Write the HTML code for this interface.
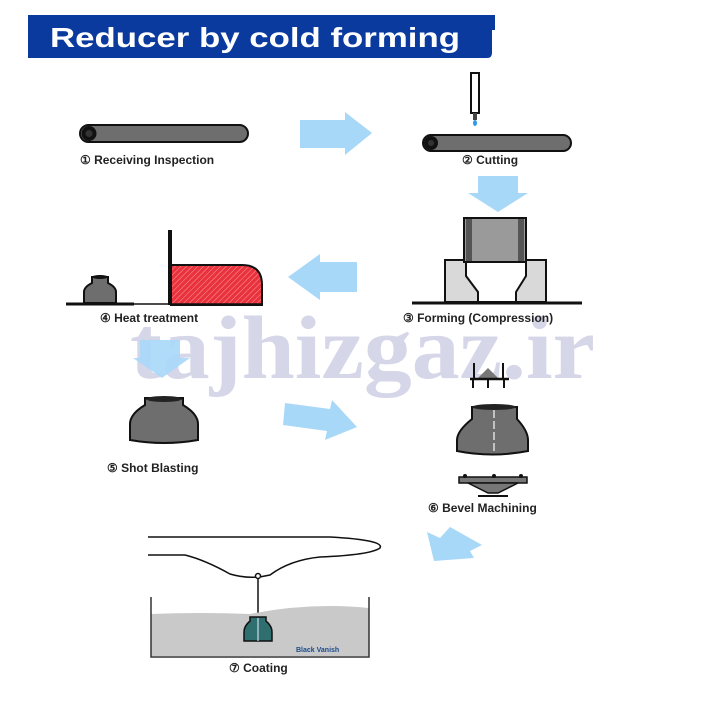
<!DOCTYPE html>
<html><head><meta charset="utf-8"><style>
html,body{margin:0;padding:0;background:#fff;}
svg{display:block;}
.lb{font-family:"Liberation Sans",sans-serif;font-size:12px;font-weight:bold;fill:#222;}
</style></head><body>
<svg width="715" height="701" viewBox="0 0 715 701" xmlns="http://www.w3.org/2000/svg">
<!-- header -->
<path d="M28 15 H495 V30 H492 V53 Q492 58 487 58 H28 Z" fill="#0a3a9e"/>
<text x="50" y="47" style="font-family:'Liberation Sans',sans-serif;font-size:28px;font-weight:bold" fill="#fff" textLength="410" lengthAdjust="spacingAndGlyphs">Reducer by cold forming</text>

<!-- watermark -->
<text x="130" y="378" style="font-family:'Liberation Serif',serif;font-size:90px;font-weight:bold" fill="#cfcfe6" opacity="0.85" textLength="465" lengthAdjust="spacingAndGlyphs">tajhizgaz.ir</text>

<!-- 1 pipe -->
<rect x="80" y="125" width="168" height="17" rx="8.5" fill="#6e6e6e" stroke="#111" stroke-width="2"/>
<circle cx="89" cy="133.5" r="7.5" fill="#111"/><circle cx="89" cy="133.5" r="3.5" fill="#333"/>
<text class="lb" x="80" y="164">① Receiving Inspection</text>

<!-- arrow right -->
<polygon points="300,120 345,120 345,112 372,133 345,155 345,148 300,148" fill="#a8d8f8"/>

<!-- 2 cutting -->
<rect x="471" y="73" width="8" height="40" fill="#fff" stroke="#111" stroke-width="2"/>
<rect x="473" y="113" width="4" height="7" fill="#444"/>
<ellipse cx="475" cy="123" rx="2" ry="3" fill="#2e9be6"/>
<rect x="423" y="135" width="148" height="16" rx="8" fill="#6e6e6e" stroke="#111" stroke-width="2"/>
<circle cx="431" cy="143" r="7" fill="#111"/><circle cx="431" cy="143" r="3" fill="#333"/>
<text class="lb" x="462" y="164">② Cutting</text>

<!-- arrow down -->
<polygon points="478,176 518,176 518,193 528,193 498,212 468,193 478,193" fill="#a8d8f8"/>

<!-- 3 forming -->
<rect x="445" y="260" width="101" height="42" fill="#d9d9d9" stroke="#111" stroke-width="2"/>
<path d="M466 260 V276 L478 292 V302 H516 V292 L526 276 V260" fill="#fff" stroke="#111" stroke-width="2"/>
<rect x="464" y="218" width="62" height="44" fill="#9a9a9a" stroke="#111" stroke-width="2"/>
<rect x="466" y="219" width="6" height="42" fill="#555"/>
<rect x="518" y="219" width="6" height="42" fill="#555"/>
<line x1="412" y1="303" x2="582" y2="303" stroke="#111" stroke-width="3"/>
<text class="lb" x="403" y="322">③ Forming (Compression)</text>

<!-- arrow left -->
<polygon points="357,262 320,262 320,254 288,277 320,300 320,292 357,292" fill="#a8d8f8"/>

<!-- 4 heat -->
<defs><pattern id="h" width="4" height="4" patternUnits="userSpaceOnUse" patternTransform="rotate(45)"><rect width="4" height="4" fill="#e8323c"/><line x1="0" y1="0" x2="0" y2="4" stroke="#ff9aa0" stroke-width="1"/></pattern></defs>
<path d="M171 305 V265 H242 Q262 265 262 285 V305 Z" fill="url(#h)" stroke="#111" stroke-width="2"/>
<line x1="170" y1="230" x2="170" y2="305" stroke="#111" stroke-width="4"/>
<path d="M84 303 V292 Q84 287 92 283 V277 H108 V283 Q116 287 116 292 V303 Z" fill="#6e6e6e" stroke="#111" stroke-width="2"/>
<ellipse cx="100" cy="277" rx="8" ry="2" fill="#111"/>
<line x1="66" y1="304" x2="134" y2="304" stroke="#111" stroke-width="3"/>
<line x1="134" y1="304" x2="262" y2="304" stroke="#111" stroke-width="1.5"/>
<text class="lb" x="100" y="322">④ Heat treatment</text>

<!-- arrow down left col -->
<polygon points="140,340 180,340 180,358 190,358 162,378 133,358 140,358" fill="#a8d8f8" opacity="0.9"/>

<!-- 5 reducer -->
<path d="M130 440 V424 Q130 414 145 405 V398 H183 V405 Q198 414 198 424 V440 Q164 446 130 440 Z" fill="#6e6e6e" stroke="#111" stroke-width="2"/>
<ellipse cx="164" cy="399" rx="18" ry="3" fill="#222"/>
<text class="lb" x="107" y="472">⑤ Shot Blasting</text>

<!-- arrow diag right -->
<polygon points="285,403 330,409 332,400 357,427 325,440 327,431 283,425" fill="#a8d8f8"/>

<!-- 6 bevel -->
<path d="M474 363 V378 M503 363 V378" stroke="#111" stroke-width="2"/>
<path d="M478 378 L488 368 L498 378 Z" fill="#777"/>
<line x1="470" y1="379" x2="509" y2="379" stroke="#111" stroke-width="2.5"/>
<path d="M473 379 V388 M488 379 V388 M504 379 V388" stroke="#111" stroke-width="2"/>
<path d="M457 451 V440 Q457 431 472 419 V407 H517 V419 Q528 431 528 440 V451 Q492 458 457 451 Z" fill="#6e6e6e" stroke="#111" stroke-width="2"/>
<ellipse cx="494" cy="407" rx="22" ry="3" fill="#222"/>
<line x1="494" y1="410" x2="494" y2="452" stroke="#ddd" stroke-width="1.5" stroke-dasharray="8,3"/>
<rect x="459" y="477" width="68" height="6" fill="#777" stroke="#111" stroke-width="1.5"/>
<path d="M468 483 L488 493 H498 L518 483 Z" fill="#777" stroke="#111" stroke-width="1.5"/>
<line x1="478" y1="496" x2="508" y2="496" stroke="#111" stroke-width="2"/>
<circle cx="465" cy="476" r="2" fill="#111"/><circle cx="494" cy="476" r="2" fill="#111"/><circle cx="521" cy="476" r="2" fill="#111"/>
<text class="lb" x="428" y="512">⑥ Bevel Machining</text>

<!-- arrow down-left -->
<polygon points="450,527 482,545 470,551 474,558 434,561 427,532 440,538" fill="#a8d8f8"/>

<!-- 7 coating -->
<path d="M148 537 H330 Q385 540 380 548 Q370 555 320 557 Q290 560 270 575 Q250 580 230 574 Q205 560 185 555 H148" fill="none" stroke="#111" stroke-width="1.5"/>
<circle cx="258" cy="576" r="2.5" fill="#fff" stroke="#111" stroke-width="1.5"/>
<line x1="258" y1="578" x2="258" y2="618" stroke="#111" stroke-width="1.5"/>
<path d="M151 614 Q200 612 250 614 Q310 602 369 608 V656 H151 Z" fill="#c9c9c9"/>
<path d="M151 597 V657 H369 V597" fill="none" stroke="#333" stroke-width="1.5"/>
<path d="M244 641 V632 Q244 626 250 621 V617 H266 V621 Q272 626 272 632 V641 Z" fill="#2f6f6f" stroke="#111" stroke-width="1.5"/>
<line x1="258" y1="618" x2="258" y2="641" stroke="#cde" stroke-width="1.2"/>
<text x="296" y="652" style="font-family:'Liberation Sans',sans-serif;font-size:7px;font-weight:bold" fill="#1a4a8a">Black Vanish</text>
<text class="lb" x="229" y="672">⑦ Coating</text>
</svg>
</body></html>
